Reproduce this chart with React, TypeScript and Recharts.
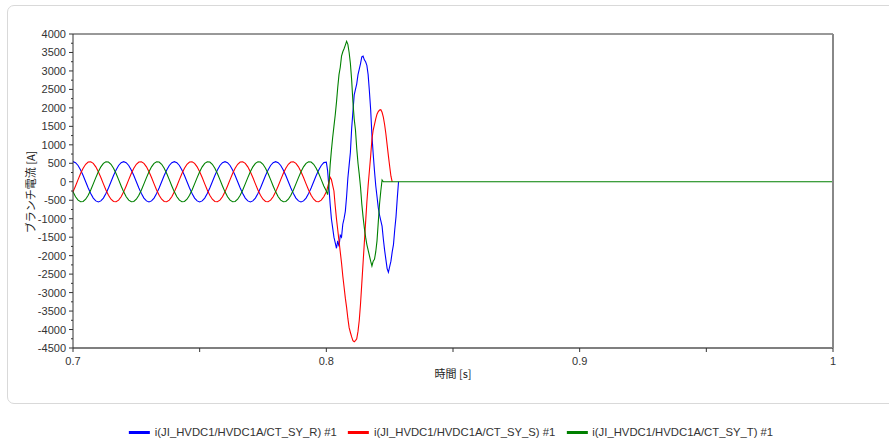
import React from 'react';
import { LineChart, Line, XAxis, YAxis } from 'recharts';

// sample times [s]
const timeSteady = [
  0.700, 0.701, 0.702, 0.703, 0.704, 0.705, 0.706, 0.707, 0.708, 0.709,
  0.710, 0.711, 0.712, 0.713, 0.714, 0.715, 0.716, 0.717, 0.718, 0.719,
  0.720, 0.721, 0.722, 0.723, 0.724, 0.725, 0.726, 0.727, 0.728, 0.729,
  0.730, 0.731, 0.732, 0.733, 0.734, 0.735, 0.736, 0.737, 0.738, 0.739,
  0.740, 0.741, 0.742, 0.743, 0.744, 0.745, 0.746, 0.747, 0.748, 0.749,
  0.750, 0.751, 0.752, 0.753, 0.754, 0.755, 0.756, 0.757, 0.758, 0.759,
  0.760, 0.761, 0.762, 0.763, 0.764, 0.765, 0.766, 0.767, 0.768, 0.769,
  0.770, 0.771, 0.772, 0.773, 0.774, 0.775, 0.776, 0.777, 0.778, 0.779,
  0.780, 0.781, 0.782, 0.783, 0.784, 0.785, 0.786, 0.787, 0.788, 0.789,
  0.790, 0.791, 0.792, 0.793, 0.794, 0.795, 0.796, 0.797, 0.798, 0.799,
];
const timeFault = [
  0.8000, 0.8005, 0.8010, 0.8015, 0.8020, 0.8025, 0.8030, 0.8035, 0.8040, 0.8045,
  0.8050, 0.8055, 0.8060, 0.8065, 0.8070, 0.8075, 0.8080, 0.8085, 0.8090, 0.8095,
  0.8100, 0.8105, 0.8110, 0.8115, 0.8120, 0.8125, 0.8130, 0.8135, 0.8140, 0.8145,
  0.8150, 0.8155, 0.8160, 0.8165, 0.8170, 0.8175, 0.8180, 0.8185, 0.8190, 0.8195,
  0.8200, 0.8205, 0.8210, 0.8215, 0.8220, 0.8225, 0.8230, 0.8235, 0.8240, 0.8245,
  0.8250, 0.8255, 0.8260, 0.8265, 0.8270, 0.8275, 0.8280, 0.8285, 0.8290, 0.8295,
  0.8300,
];
const timeEnd = [1.0];

// one steady-state cycle (20 samples), per phase [A]
const cycleR = [545, 518, 441, 320, 168, 0, -168, -320, -441, -518, -545, -518, -441, -320, -168, 0, 168, 320, 441, 518];
const cycleS = [-273, -113, 57, 222, 365, 472, 533, 542, 498, 405, 273, 113, -57, -222, -365, -472, -533, -542, -498, -405];
const cycleT = [-273, -405, -498, -542, -533, -472, -365, -222, -57, 113, 273, 405, 498, 542, 533, 472, 365, 222, 57, -113];

// fault transient [A]; null = hidden beneath the T-phase zero line
const faultR = [
  530, 300, -130, -600, -1000, -1250, -1500, -1650, -1800, -1600,
  -1750, -1450, -1500, -1150, -1000, -800, -400, 100, 450, 800,
  1450, 1900, 2350, 2500, 2650, 2900, 3050, 3200, 3380, 3400,
  3300, 3250, 3150, 2900, 2450, 1950, 1250, 750, 300, -100,
  -400, -700, -900, -1050, -1200, -1550, -1850, -2100, -2350, -2450,
  -2300, -2150, -1900, -1700, -1300, -950, -450, 0, null, null,
  null,
];
const faultS = [
  -273, -150, -20, 120, 60, -100, -250, -650, -1000, -1300,
  -1600, -1900, -2200, -2550, -2850, -3150, -3400, -3700, -3950, -4080,
  -4200, -4300, -4330, -4300, -4250, -4050, -3750, -3300, -2750, -2200,
  -1650, -1100, -550, -100, 300, 700, 1150, 1400, 1550, 1700,
  1830, 1900, 1940, 1950, 1880, 1750, 1550, 1300, 1000, 700,
  420, 150, 0, null, null, null, null, null, null, null,
  null,
];
const faultT = [
  -250, -350, -100, 450, 850, 1200, 1500, 1800, 2150, 2550,
  2900, 3100, 3400, 3520, 3600, 3700, 3800, 3720, 3500, 3200,
  2750, 2150, 1700, 1400, 900, 500, 200, -150, -600, -950,
  -1250, -1500, -1700, -1850, -2000, -2150, -2280, -2150, -2100, -1900,
  -1600, -1100, -600, -250, 50, 0, 0, 0, 0, 0,
  0, 0, 0, 0, 0, 0, 0, 0, 0, 0,
  0,
];
const endR = [null];
const endS = [null];
const endT = [0];

const seriesR = [...cycleR, ...cycleR, ...cycleR, ...cycleR, ...cycleR, ...faultR, ...endR];
const seriesS = [...cycleS, ...cycleS, ...cycleS, ...cycleS, ...cycleS, ...faultS, ...endS];
const seriesT = [...cycleT, ...cycleT, ...cycleT, ...cycleT, ...cycleT, ...faultT, ...endT];
const time = [...timeSteady, ...timeFault, ...timeEnd];

const seriesNames = [
  'i(JI_HVDC1/HVDC1A/CT_SY_R) #1',
  'i(JI_HVDC1/HVDC1A/CT_SY_S) #1',
  'i(JI_HVDC1/HVDC1A/CT_SY_T) #1',
];
const seriesColors = ['#0000ff', '#ff0000', '#008000'];

const xTicks = [0.7, 0.75, 0.8, 0.85, 0.9, 0.95, 1];
const xMajor = [0.7, 0.8, 0.9, 1];
const xMajorLabels = ['0.7', '0.8', '0.9', '1'];
const yTicks = [
  -4500, -4250, -4000, -3750, -3500, -3250, -3000, -2750, -2500, -2250,
  -2000, -1750, -1500, -1250, -1000, -750, -500, -250, 0, 250,
  500, 750, 1000, 1250, 1500, 1750, 2000, 2250, 2500, 2750,
  3000, 3250, 3500, 3750, 4000,
];

const rows = time.map((t, i) => ({ t, r: seriesR[i], s: seriesS[i], u: seriesT[i] }));

const FONT = 'Arial, "Liberation Sans", sans-serif';
const JP = '"Noto Sans CJK JP", "Noto Sans", sans-serif';

const YTick = (props: any) => {
  const { x, y, payload } = props;
  const v = payload.value;
  const major = v % 500 === 0;
  const ax = x + 7;
  return (
    <g>
      <line x1={ax - (major ? 4 : 2)} x2={ax} y1={y} y2={y} stroke="#333" strokeWidth={1} />
      {major && (
        <text x={x} y={y} dy={4} textAnchor="end" fontSize={11} fill="#333" fontFamily={FONT}>
          {v}
        </text>
      )}
    </g>
  );
};

const XTick = (props: any) => {
  const { x, y, payload } = props;
  const v = payload.value;
  const idx = xMajor.findIndex((m) => Math.abs(m - v) < 1e-9);
  const ay = y - 7;
  return (
    <g>
      <line x1={x} x2={x} y1={ay} y2={ay + 4} stroke="#333" strokeWidth={1} />
      {idx >= 0 && (
        <text x={x} y={ay + 17} textAnchor="middle" fontSize={11} fill="#333" fontFamily={FONT}>
          {xMajorLabels[idx]}
        </text>
      )}
    </g>
  );
};

export default function App() {
  return (
    <div style={{ position: 'absolute', left: 0, top: 0, width: 889, height: 443, background: '#fff', overflow: 'hidden' }}>
      <div
        style={{
          position: 'absolute',
          left: 7,
          top: 5,
          width: 920,
          height: 397,
          border: '1px solid #d9d9d9',
          borderRadius: 7,
        }}
      />
      <div style={{ position: 'absolute', left: 0, top: 0 }}>
        <LineChart width={889} height={443} data={rows} margin={{ top: 33, right: 55, bottom: 65, left: 13 }}>
          <XAxis
            dataKey="t"
            type="number"
            domain={[0.7, 1]}
            ticks={xTicks}
            interval={0}
            tick={<XTick />}
            tickLine={false}
            tickSize={5}
            tickMargin={2}
            height={30}
            axisLine={{ stroke: '#555', strokeWidth: 1.5 }}
          />
          <XAxis
            xAxisId="top"
            orientation="top"
            type="number"
            domain={[0.7, 1]}
            ticks={[0.7]}
            tick={false}
            tickLine={false}
            height={1}
            axisLine={{ stroke: '#333', strokeWidth: 1 }}
          />
          <YAxis
            type="number"
            domain={[-4500, 4000]}
            ticks={yTicks}
            interval={0}
            tick={<YTick />}
            tickLine={false}
            tickSize={5}
            tickMargin={2}
            width={60}
            axisLine={{ stroke: '#333', strokeWidth: 1 }}
          />
          <YAxis
            yAxisId="right"
            orientation="right"
            type="number"
            domain={[-4500, 4000]}
            ticks={[4000]}
            tick={false}
            tickLine={false}
            width={1}
            axisLine={{ stroke: '#888', strokeWidth: 2 }}
          />
          <Line dataKey="r" name={seriesNames[0]} stroke={seriesColors[0]} strokeWidth={1.1} dot={false} isAnimationActive={false} />
          <Line dataKey="s" name={seriesNames[1]} stroke={seriesColors[1]} strokeWidth={1.1} dot={false} isAnimationActive={false} />
          <Line dataKey="u" name={seriesNames[2]} stroke={seriesColors[2]} strokeWidth={1.1} dot={false} isAnimationActive={false} />
        </LineChart>
      </div>
      <div
        style={{
          position: 'absolute',
          left: 30,
          top: 192,
          transform: 'translate(-50%, -50%) rotate(-90deg)',
          fontFamily: JP,
          fontSize: 11,
          color: '#222',
          whiteSpace: 'nowrap',
        }}
      >
        ブランチ電流 [A]
      </div>
      <div
        style={{
          position: 'absolute',
          left: 453,
          top: 373,
          transform: 'translate(-50%, -50%)',
          fontFamily: JP,
          fontSize: 11,
          color: '#222',
          whiteSpace: 'nowrap',
        }}
      >
        時間 [s]
      </div>
      <div
        style={{
          position: 'absolute',
          left: 451,
          top: 432,
          transform: 'translate(-50%, -50%)',
          display: 'flex',
          alignItems: 'center',
          gap: 11,
          whiteSpace: 'nowrap',
          fontFamily: FONT,
          fontSize: 11.3,
          color: '#333',
        }}
      >
        {seriesNames.map((n, i) => (
          <div key={n} style={{ display: 'flex', alignItems: 'center', gap: 5 }}>
            <div style={{ width: 21, height: 3, background: seriesColors[i] }} />
            <span>{n}</span>
          </div>
        ))}
      </div>
    </div>
  );
}
